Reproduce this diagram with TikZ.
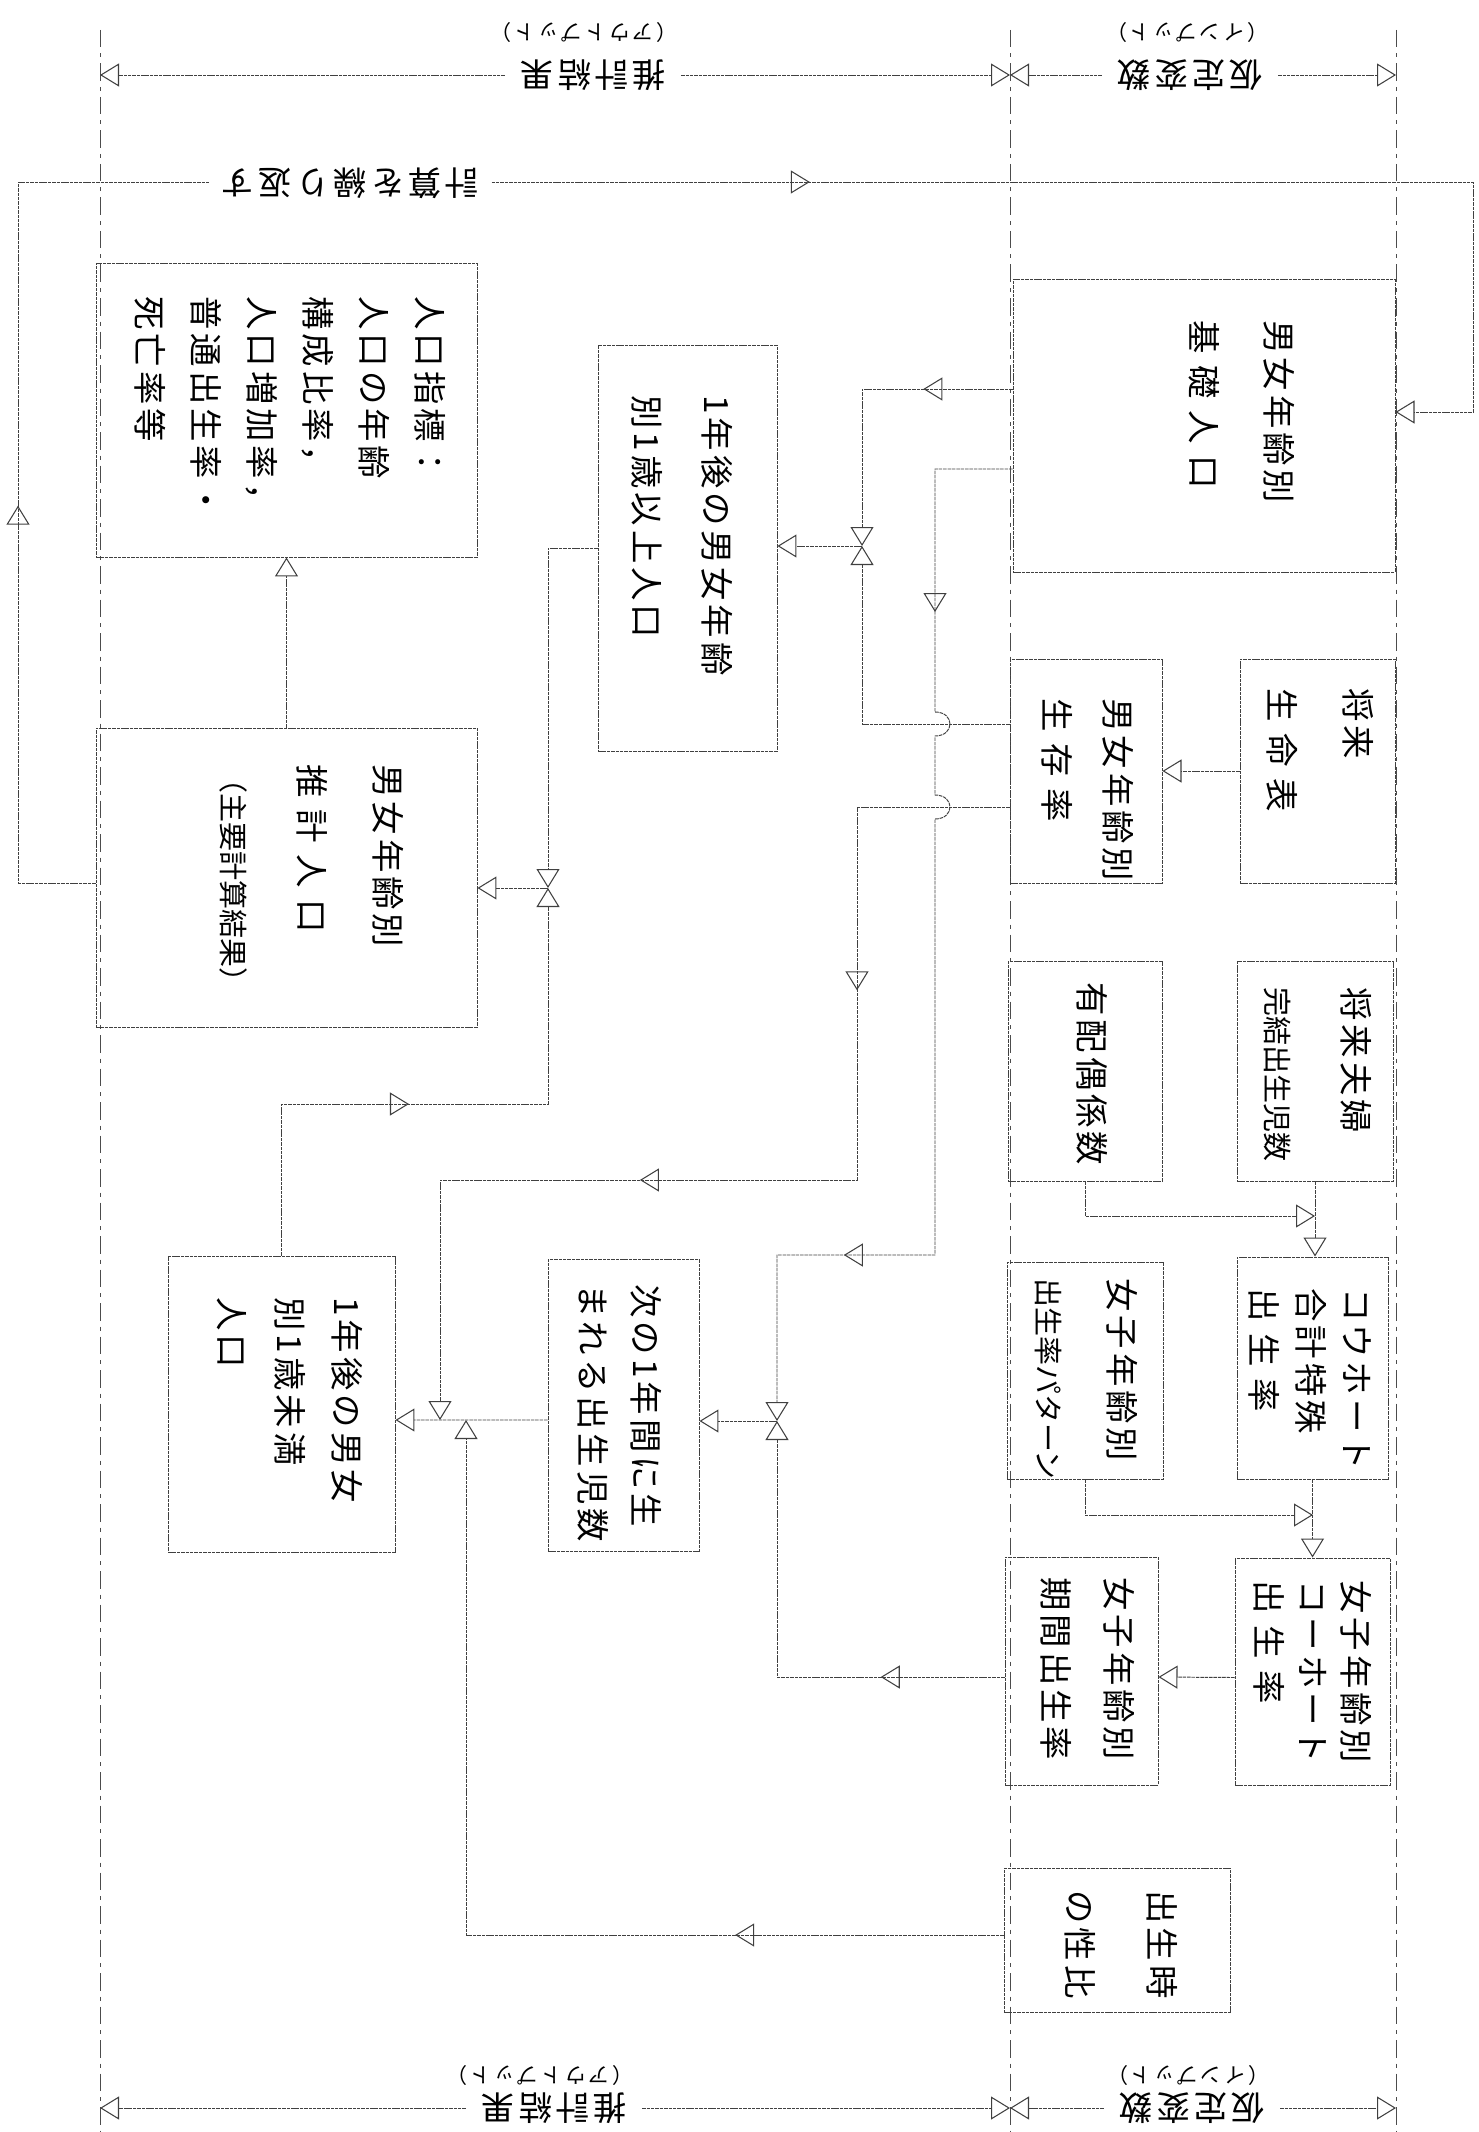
\documentclass[tikz,border=0pt]{standalone}
\usepackage{fontspec}
\setmainfont{Noto Sans CJK JP}
\newfontfamily\hand[LetterSpace=12]{Noto Sans CJK JP}
\newfontfamily\handtight{Noto Sans CJK JP}
\usetikzlibrary{arrows.meta, positioning, calc, fit, decorations.markings}
\newcommand{\gp}{\hspace{0.35em}}
\newcommand{\tight}{\handtight\fontsize{16.5}{20}\selectfont}

\tikzset{
  tipA/.tip={Triangle[open, length=3.8mm, width=4.6mm, line width=0.6pt]},
  link/.style={draw=black!75, line width=0.55pt, dash pattern=on 2pt off 0.5pt},
  box/.style={draw=black!75, line width=0.55pt, dash pattern=on 2pt off 0.5pt, inner sep=0pt, rectangle},
  divider/.style={draw=black!70, line width=0.55pt, dash pattern=on 3.5mm off 1.2mm on 0.8mm off 1.2mm},
  vtext/.style={rotate=-90, anchor=west, align=left, inner sep=0pt, font=\hand\fontsize{19}{#1}\selectfont},
  vtext/.default=30pt,
  htext/.style={rotate=180, inner xsep=3mm, inner ysep=0pt, font=\hand\fontsize{19}{22}\selectfont},
  subtext/.style={rotate=180, inner sep=0pt, font=\hand\fontsize{12}{14}\selectfont},
  tipmark/.style={postaction={decorate, decoration={markings, mark=at position #1 with {\arrow{tipA}}}}},
}

\begin{document}
\begin{tikzpicture}[x=0.2mm, y=-0.2mm]
\useasboundingbox (0,0) rectangle (1478,2132);

% column dividers
\coordinate (dLt) at (100,30);  \coordinate (dLb) at (100,2132);
\coordinate (dMt) at (1010,30); \coordinate (dMb) at (1010,2132);
\coordinate (dRt) at (1396,30); \coordinate (dRb) at (1396,2132);
\draw[divider] (dLt) -- (dLb);
\draw[divider] (dMt) -- (dMb);
\draw[divider] (dRt) -- (dRb);

% headers
\node[htext] (outT) at (593,75) {推計結果};
\node[subtext] (outTs) at (584,33) {（アウトプット）};
\node[htext] (inT) at (1190,75) {仮定変数};
\node[subtext] (inTs) at (1187,33) {（インプット）};
\node[htext] (outB) at (554,2108) {推計結果};
\node[subtext] (outBs) at (540,2075) {（アウトプット）};
\node[htext] (inB) at (1192,2108) {仮定変数};
\node[subtext] (inBs) at (1188,2075) {（インプット）};

\draw[link, -{tipA}] (outT) -- (outT -| dLt);
\draw[link, -{tipA}] (outT) -- (outT -| dMt);
\draw[link, -{tipA}] (inT) -- (inT -| dMt);
\draw[link, -{tipA}] (inT) -- (inT -| dRt);
\draw[link, -{tipA}] (outB) -- (outB -| dLt);
\draw[link, -{tipA}] (outB) -- (outB -| dMt);
\draw[link, -{tipA}] (inB) -- (inB -| dMt);
\draw[link, -{tipA}] (inB) -- (inB -| dRt);

% boxes
\node[box, fit={(1013,279) (1395,572)}] (base) {};
\node[box, fit={(1240,659) (1395,883)}] (life) {};
\node[box, fit={(1010,659) (1162,883)}] (surv) {};
\node[box, fit={(1008,961) (1162,1181)}] (marit) {};
\node[box, fit={(1237,961) (1393,1181)}] (compl) {};
\node[box, fit={(1237,1257) (1388,1479)}] (cohtfr) {};
\node[box, fit={(1007,1262) (1163,1479)}] (fpat) {};
\node[box, fit={(1235,1558) (1390,1785)}] (cohort) {};
\node[box, fit={(1005,1557) (1158,1785)}] (period) {};
\node[box, fit={(1004,1868) (1230,2012)}] (sexratio) {};
\node[box, fit={(96,263) (477,557)}] (indic) {};
\node[box, fit={(96,728) (477,1027)}] (estim) {};
\node[box, fit={(598,345) (777,751)}] (older) {};
\node[box, fit={(548,1259) (699,1551)}] (births) {};
\node[box, fit={(168,1256) (395,1552)}] (infant) {};

% box texts
\node[vtext=42.7pt] (baseT) at (1242,320) {男女年齢別\\基\gp 礎\gp 人\gp 口};
\node[vtext=43pt] (lifeT) at (1320,688) {将来\\生\gp 命\gp 表};
\node[vtext=34.7pt] (survT) at (1088,698) {男女年齢別\\生\gp 存\gp 率};
\node[vtext] (maritT) at (1092,982) {有配偶係数};
\node[vtext=43.8pt] (complT) at (1318,987) {将来夫婦\\{\tight 完結出生児数}};
\node[vtext=26.7pt] (cohtfrT) at (1310,1288) {コウホート\\合計特殊\\出\gp 生\gp 率};
\node[vtext=41pt] (fpatT) at (1086,1278) {女子年齢別\\{\tight 出生率パターン}};
\node[vtext=24.7pt] (cohortT) at (1313,1580) {女子年齢別\\コーホート\\出\gp 生\gp 率};
\node[vtext=35.9pt] (periodT) at (1088,1577) {女子年齢別\\期間出生率};
\node[vtext=46.7pt] (sexratioT) at (1121,1890) {出生時\\の性比};
\node[vtext=31.9pt] (indicT) at (290,296) {人口指標：\\人口の年齢\\構成比率，\\人口増加率，\\普通出生率・\\死亡率等};
\node[vtext=43.5pt] (estimT) at (312,764) {男女年齢別\\推\gp 計\gp 人\gp 口\\{\tight （主要計算結果）}};
\node[vtext=39.8pt] (olderT) at (682,395) {1年後の男女年齢\\別1歳以上人口};
\node[vtext=30.2pt] (birthsT) at (620,1284) {次の1年間に生\\まれる出生児数};
\node[vtext=32.7pt] (infantT) at (290,1297) {1年後の男女\\別1歳未満\\人口};

% junctions and corners
\coordinate (lpA) at (18,182);
\coordinate (lpB) at (1473,182);
\coordinate (jM) at (862,546);
\coordinate (jN) at (777,1421);
\coordinate (jO) at (440,1420);
\coordinate (jS) at (466,1420);
\coordinate (cC) at (857,1180);
\coordinate (jL) at (548,888);
\coordinate (cO) at (548,1104);
\coordinate (jF1) at (1315,1216);
\coordinate (jF2) at (1313,1515);

% loop back
\draw[link, -{tipA}, tipmark=0.179, tipmark=0.618] ([yshift=-1.1mm]estim.west) -| (lpA) -- (lpB) |- ([yshift=2.7mm]base.east);
\node[htext, fill=white, inner xsep=2.5mm] (rep) at (350,183) {計算を繰り返す};

% survivors
\draw[link, -{tipA}] (life.west) -- (life.west -| surv.east);
\draw[link, -{tipA}, tipmark=0.29] ([yshift=7.3mm]base.west) -| (jM);
\draw[link, -{tipA}] ([yshift=9.4mm]surv.west) -| (jM);
\draw[link, -{tipA}] (jM) -- (jM -| older.east);

% births
\draw[link, -{tipA}] (marit.south) |- (jF1);
\draw[link, -{tipA}] (compl.south) -- (compl.south |- cohtfr.north);
\draw[link, -{tipA}] (fpat.south) |- (jF2);
\draw[link, -{tipA}] (cohtfr.south) -- (cohtfr.south |- cohort.north);
\draw[link, -{tipA}] ([yshift=-1.2mm]cohort.west) -- ([yshift=-1.2mm]period.east);
\draw[link, -{tipA}, tipmark=0.18, tipmark=0.81] ([yshift=-8.7mm]base.west) -- (935,469) -- (935,712)
  .. controls (955,712) and (955,736) .. (935,736) -- (935,795)
  .. controls (955,795) and (955,819) .. (935,819) -- (935,1255) -- (777,1255) -- (jN);
\draw[link, -{tipA}, tipmark=0.256] ([yshift=-1.2mm]period.west) -| (jN);
\draw[link, -{tipA}] (jN) -- (jN -| births.east);

% under one year
\draw[link, -{tipA}, tipmark=0.284, tipmark=0.628] ([yshift=-7.2mm]surv.west) -| (cC) -| (jO);
\draw[link, -{tipA}] ([yshift=-3mm]births.west) -- (infant.east |- jO);
\draw[link, -{tipA}, tipmark=0.255] ([yshift=1mm]sexratio.west) -| (jS);

% estimated population
\draw[link, -{tipA}] (older.west) -| (jL);
\draw[link, -{tipA}, tipmark=0.44] (infant.north) |- (cO) -- (jL);
\draw[link, -{tipA}] (jL) -- (jL -| estim.east);
\draw[link, -{tipA}] (estim.north) -- (indic.south);
\end{tikzpicture}
\end{document}
